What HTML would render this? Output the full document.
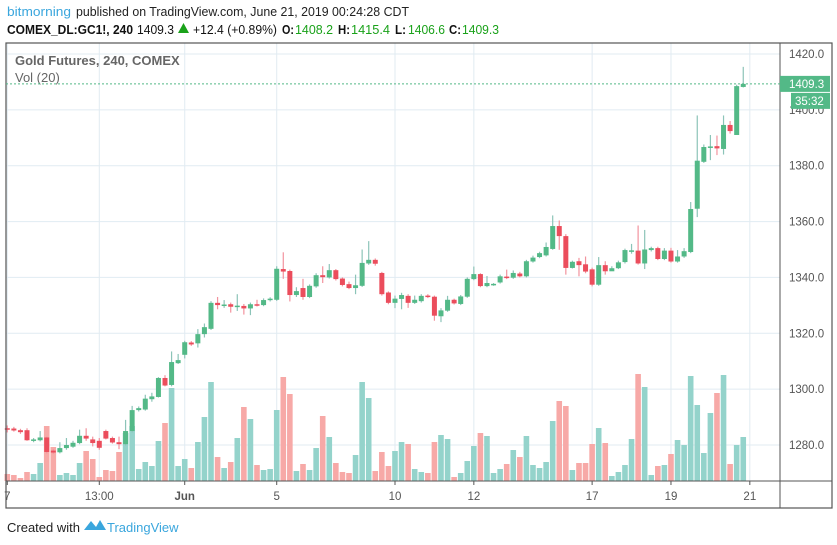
<!DOCTYPE html>
<html><head><meta charset="utf-8"><style>
body{margin:0;background:#fff;width:837px;height:545px;overflow:hidden;font-family:"Liberation Sans",sans-serif}
svg{position:absolute;left:0;top:0}
</style></head><body>
<svg id="c" width="837" height="545">
<text x="7" y="16" font-size="13" fill="#3aa6dd" textLength="64" lengthAdjust="spacingAndGlyphs">bitmorning</text>
<text x="76" y="16" font-size="13" fill="#222" textLength="333" lengthAdjust="spacingAndGlyphs">published on TradingView.com, June 21, 2019 00:24:28 CDT</text>
<g font-size="13">
<text x="7" y="34" font-weight="bold" fill="#111" textLength="126" lengthAdjust="spacingAndGlyphs">COMEX_DL:GC1!, 240</text>
<text x="137" y="34" fill="#111" textLength="37" lengthAdjust="spacingAndGlyphs">1409.3</text>
<polygon points="178,33 183.5,23 189,33" fill="#1aa21a"/>
<text x="193" y="34" fill="#111" textLength="84" lengthAdjust="spacingAndGlyphs">+12.4 (+0.89%)</text>
<text x="282" y="34" font-weight="bold" fill="#111" textLength="12" lengthAdjust="spacingAndGlyphs">O:</text><text x="295" y="34" fill="#1aa21a" textLength="38" lengthAdjust="spacingAndGlyphs">1408.2</text>
<text x="338" y="34" font-weight="bold" fill="#111" textLength="12" lengthAdjust="spacingAndGlyphs">H:</text><text x="351" y="34" fill="#1aa21a" textLength="39" lengthAdjust="spacingAndGlyphs">1415.4</text>
<text x="395" y="34" font-weight="bold" fill="#111" textLength="11" lengthAdjust="spacingAndGlyphs">L:</text><text x="408" y="34" fill="#1aa21a" textLength="37" lengthAdjust="spacingAndGlyphs">1406.6</text>
<text x="449" y="34" font-weight="bold" fill="#111" textLength="12" lengthAdjust="spacingAndGlyphs">C:</text><text x="462" y="34" fill="#1aa21a" textLength="37" lengthAdjust="spacingAndGlyphs">1409.3</text>
</g>
<g id="grid"></g>
<g id="vol"></g>
<g id="candles"></g>
<rect x="6" y="43" width="826" height="465" fill="none" stroke="#555" stroke-width="1.2"/>
<line x1="780" y1="43" x2="780" y2="508" stroke="#555"/>
<line x1="6" y1="481" x2="832" y2="481" stroke="#555"/>
<text x="15" y="65" font-size="13" font-weight="bold" fill="#666">Gold Futures, 240, COMEX</text>
<text x="15" y="82" font-size="13" fill="#666">Vol (20)</text>
<g id="axes" font-size="11.5" fill="#555"></g>
<text x="7" y="532" font-size="13" fill="#222">Created with</text>
<path d="M84 530 L91 521 L96 527 L100 520 L106 530 Z" fill="#3aa6dd"/>
<text x="107" y="532" font-size="13" fill="#3aa6dd">TradingView</text>
</svg>
<script>
const opens=[1286,1285.9,1285.3,1285.3,1281.8,1281.7,1282.7,1278,1277.4,1278.9,1279.4,1280.7,1283.3,1282,1281.5,1285,1282.5,1281,1280.3,1285,1292.5,1292.7,1296.4,1297.2,1304,1301.5,1309.3,1312.3,1316.7,1316.4,1319.7,1321.6,1330.9,1330.2,1330.4,1329.8,1329.8,1328.9,1330.4,1330.1,1331.9,1332,
1343,1342.3,1333.7,1336.2,1333,1336.8,1340.8,1340,1342.6,1339.6,1337.6,1336.2,1337,1345,1346.3,1341.6,1334.6,1330.9,1332.3,1333.4,1330.9,1331.5,1333.5,1333.1,1326.1,1328.1,1332,1330.5,1333.1,1339.4,1341.2,1336.9,1337.3,1338.2,1340.3,1339.9,1341.4,1340.4,1345.7,1347.3,1347.9,
1350.2,1358.4,1354.8,1343.4,1345.8,1344.7,1342.9,1337.4,1344.4,1342.2,1343.3,1345.5,1349.6,1349.6,1345,1349.8,1350.5,1346.6,1349.6,1345.7,1347.5,1349.1,1364.6,1381.4,1386.4,1387,1386,1394.6,1391,1408.2];
const closes=[1285.5,1285.2,1284.6,1281.7,1282,1282.7,1277.5,1277.3,1278.9,1280,1280.8,1283.3,1282.3,1280.7,1279,1282.3,1280.9,1280.3,1285,1292.5,1293.2,1296.6,1297.4,1304,1301.3,1309.7,1310.4,1316.8,1316,1319.7,1322.2,1330.9,1330.1,1330.3,1329.5,1329.9,1328.9,1330.4,1330.1,1331.9,1332.4,1343.1,
1342.1,1333.7,1335.1,1333,1337,1340.8,1340.1,1342.6,1339.4,1337.3,1336.2,1337.2,1345.2,1346.3,1344.9,1334,1330.9,1332.4,1333.7,1330.9,1332,1333.4,1333.1,1326.3,1328.2,1332,1330.7,1333.2,1339.5,1341.2,1336.9,1338,1337.7,1340.4,1339.9,1341.6,1340.4,1345.8,1347.1,1348.7,1350.9,
1358.4,1354.8,1343.4,1345.6,1344.4,1342.1,1337.4,1344.4,1342.2,1343.3,1345.4,1349.8,1349.7,1345,1350,1350.5,1346.6,1349.6,1345.7,1347.5,1349.4,1364.5,1381.8,1386.7,1386.9,1386.2,1394.6,1392.4,1408.5,1409.3];
const highs=[1287,1286.5,1285.8,1286,1282.5,1285,1283,1278.5,1281,1282.5,1281.5,1285.5,1286,1283,1282.5,1285.5,1283,1283,1289,1294,1293.8,1298,1298.7,1304.3,1305,1313.5,1312.6,1317.3,1317.2,1321.5,1323.5,1331.5,1333,1331.9,1331,1334,1330.5,1331,1332,1332.5,1332.9,1344,
1349,1342.8,1336.5,1339.5,1337.5,1341.5,1344,1344.8,1343,1340,1338.5,1341,1350,1353,1346.8,1342,1335,1333.5,1334.5,1334,1333.5,1334,1334,1333.5,1329,1333.4,1332.4,1333.7,1340,1343.9,1341.5,1340.5,1338,1341,1342.8,1342.5,1342,1346.3,1347.8,1349.2,1352.5,
1362.2,1360.4,1355.5,1346,1347,1347.5,1343.5,1347.3,1345.8,1344,1346,1350.3,1352,1358.6,1357,1351,1351,1350.5,1350.6,1349.8,1350.5,1367,1398,1387.6,1391,1390.8,1398,1396,1409,1415.4];
const lows=[1284.5,1284.8,1284,1281.5,1281,1281.3,1277,1276.8,1277,1278.3,1279,1280.3,1281.5,1279.5,1278.3,1282,1280.5,1278.5,1279.8,1284.5,1292,1292.3,1295.5,1297,1301,1301,1309,1311,1315.5,1314.9,1318.5,1321.2,1328.6,1329.1,1327.4,1328,1326.7,1326.5,1329.6,1329.7,1331.4,1331.6,
1339.5,1331.4,1333,1332,1332.6,1336.3,1338,1339.6,1338.9,1336.8,1335.8,1334,1336.6,1344.5,1344.2,1333.5,1330.4,1329,1328.6,1329.1,1330.5,1331,1332.6,1324.5,1324,1327.7,1330.3,1330.1,1332.7,1339,1336.5,1336.5,1337,1337.8,1339.4,1339.5,1340,1340,1345.3,1346.9,1347.5,
1349.9,1349.9,1341,1343.2,1340.4,1341.5,1336.8,1337,1341,1342.8,1343,1345,1348.5,1344.6,1343,1349.3,1346.2,1346.2,1345.3,1345.3,1347,1348.7,1361.6,1381,1382,1383.8,1384,1391.5,1391,1408];
const volumes=[7,6,3,9,7,18,55,34,6,8,6,18,30,22,4,11,10,29,48,55,12,19,15,40,58,93,15,22,13,39,64,99,24,13,19,43,74,62,16,11,12,71,
104,87,10,17,11,33,65,44,18,9,8,26,99,83,10,29,15,30,39,37,12,9,8,39,46,42,4,8,20,35,48,45,8,12,17,31,24,45,16,13,19,
60,80,75,11,18,18,37,53,38,5,9,16,42,107,94,6,15,16,27,41,36,105,76,28,68,88,106,17,36,44];
const priceTicks=[1280,1300,1320,1340,1360,1380,1400,1420];
const timeLabels=["7","13:00","Jun","5","10","12","17","19","21"];
const timeLabelIdx=[0,14,27,41,59,71,89,101,113];

const NS="http://www.w3.org/2000/svg";
const X0=7.3, STEP=6.571;
const xOf=i=>X0+i*STEP;
const yOf=p=>54+(1420-p)*2.7929;
const vBase=481;
const vY=v=>vBase-v*1.0;
function mk(tag,attrs,parent){const e=document.createElementNS(NS,tag);for(const k in attrs)e.setAttribute(k,attrs[k]);parent.appendChild(e);return e;}
const grid=document.getElementById('grid'),vol=document.getElementById('vol'),cg=document.getElementById('candles'),axes=document.getElementById('axes');
priceTicks.forEach(p=>{
  const l=mk('line',{x1:6,x2:780,y1:yOf(p),y2:yOf(p),stroke:'#e1ebf2'},grid);
  
  
  const t=mk('text',{x:789,y:yOf(p)+4},axes);t.textContent=p.toFixed(1);
  
  
});
timeLabels.forEach((s,k)=>{
  const x=xOf(timeLabelIdx[k]);
  const l=mk('line',{x1:x,x2:x,y1:43,y2:481,stroke:'#e1ebf2'},grid);
  
  
  const tk=mk('line',{x1:x,x2:x,y1:481,y2:485,stroke:'#555'},axes);
  
  
  const t=mk('text',{x:x,y:500,'text-anchor':'middle','font-weight':s==='Jun'?'bold':'normal'},axes);t.textContent=s;
  
  
});
volumes.forEach((v,i)=>{
  const up=closes[i]>=opens[i];
  const r=mk('rect',{x:xOf(i)-2.8,y:vY(v),width:5.6,height:vBase-vY(v),fill:up?'#94d3cb':'#f7a9a7'},vol);
  
  
});
opens.forEach((o,i)=>{
  const c=closes[i],up=c>=o,x=xOf(i);
  const w=mk('line',{x1:x,x2:x,y1:yOf(highs[i]),y2:yOf(lows[i]),stroke:up?'#8cc4b8':'#f2939e','stroke-width':1.2},cg);
  
  
  const top=yOf(Math.max(o,c)),h=Math.max(1.5,Math.abs(yOf(o)-yOf(c)));
  const b=mk('rect',{x:x-2.5,y:top,width:5,height:h,fill:up?'#53b987':'#eb4d5c'},cg);
  
  
});
const last=closes[closes.length-1],ly=yOf(last);
const pl=mk('line',{x1:6,x2:780,y1:ly,y2:ly,stroke:'#53b987','stroke-dasharray':'2,2'},axes);


const pb=mk('rect',{x:780,y:ly-8,width:50,height:16,fill:'#53b987'},axes);


const pt=mk('text',{x:789,y:ly+4,fill:'#fff'},axes);pt.textContent=last.toFixed(1);


const cb=mk('rect',{x:791,y:ly+9,width:39,height:16,fill:'#53b987'},axes);


const ct=mk('text',{x:795,y:ly+21,fill:'#fff'},axes);ct.textContent='35:32';


</script>
</body></html>
